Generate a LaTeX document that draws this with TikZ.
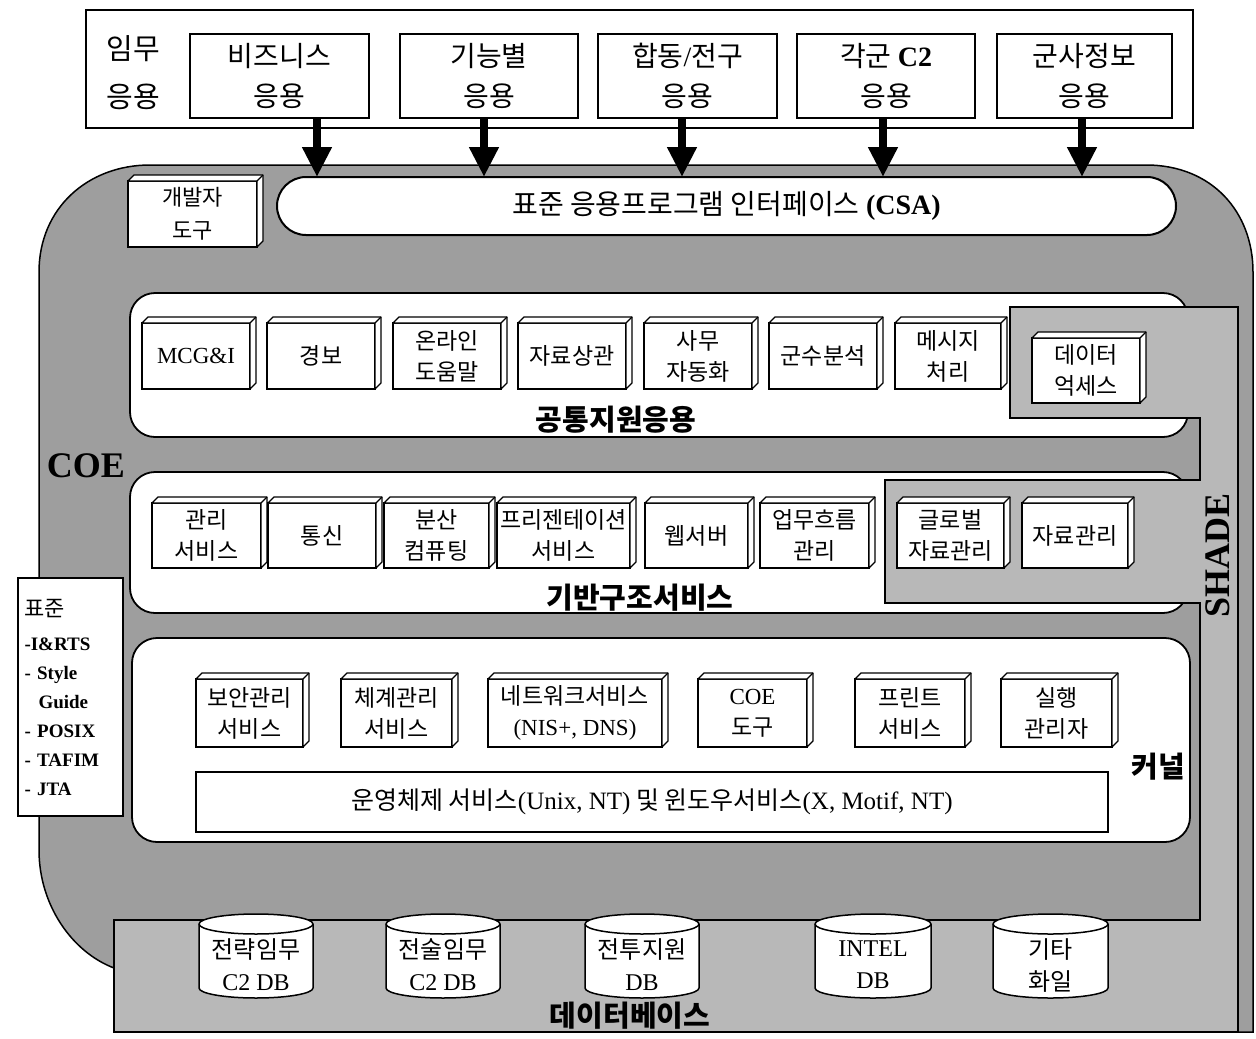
\documentclass[tikz,border=0pt]{standalone}
\usepackage{fontspec}
\setmainfont{Liberation Serif}
\newfontfamily\kr{Noto Sans CJK KR}
\usetikzlibrary{arrows.meta}
\definecolor{coegray}{gray}{0.62}
\definecolor{shadegray}{gray}{0.72}
\newcommand\lat[1]{{\rmfamily #1}}
% 3D box: [extra style], name, x1, y1, x2, y2 (front face), text
\newcommand\cubenode[7][]{%
  \node[cubefront, #1, minimum width={((#5)-(#3))*1pt}, minimum height={((#6)-(#4))*1pt}] (#2) at ({((#3)+(#5))/2},{((#4)+(#6))/2}) {#7};
  \filldraw[cubeside] (#2.north west) -- ++(6,-6) -- ([shift={(6,-6)}]#2.north east) -- ([shift={(6,-6)}]#2.south east) -- (#2.south east) -- (#2.north east) -- cycle;
  \draw[cubeside] (#2.north east) -- ++(6,-6);
}
% database cylinder: name, x1, x2, text
\newcommand\dbcyl[4]{%
  \filldraw[cyl] (#2,924) -- (#2,988) arc[start angle=180,end angle=360,x radius={((#3)-(#2))/2*1pt},y radius=10pt] -- (#3,924) arc[start angle=0,end angle=180,x radius={((#3)-(#2))/2*1pt},y radius=10pt] -- cycle;
  \draw[cyl] (#2,924) arc[start angle=180,end angle=360,x radius={((#3)-(#2))/2*1pt},y radius=10pt];
  \node[cyltext] (#1) at ({((#2)+(#3))/2},965) {#4};
}
\begin{document}
\begin{tikzpicture}[x=1pt,y=-1pt,
  outerbox/.style={draw, line width=1.5pt, fill=white, inner sep=0pt, outer sep=0pt},
  topbox/.style={draw, line width=2.2pt, fill=white, align=center, inner sep=0pt, outer sep=0pt, minimum height=84pt, font=\kr\fontsize{28}{40}\selectfont},
  toplabel/.style={align=center, inner sep=0pt, font=\kr\fontsize{29}{48}\selectfont},
  pill/.style={draw, line width=2pt, fill=white, rounded corners=29pt, inner sep=0pt, outer sep=0pt, minimum height=58pt, font=\kr\fontsize{28}{32}\selectfont},
  panel/.style={draw, line width=1.8pt, fill=white, rounded corners=25pt, inner sep=0pt, outer sep=0pt},
  cubefront/.style={draw, line width=1.5pt, fill=white, align=center, inner sep=0pt, outer sep=0pt, font=\kr\fontsize{23}{31}\selectfont},
  cubeside/.style={draw, line width=1.3pt, fill=white, line join=round},
  panellabel/.style={inner sep=0pt, font=\kr\bfseries\fontsize{29}{32}\selectfont},
  osbox/.style={draw, line width=1.5pt, fill=white, inner sep=0pt, outer sep=0pt, minimum width=912pt, minimum height=60pt, font=\kr\fontsize{25}{28}\selectfont},
  stdbox/.style={draw, line width=1.3pt, fill=white, align=left, inner sep=0pt, outer sep=0pt, text width=92pt, minimum width=105pt, minimum height=238pt, font=\bfseries\fontsize{19}{29}\selectfont},
  cyl/.style={draw, line width=1.5pt, fill=white},
  cyltext/.style={align=center, inner sep=0pt, font=\kr\fontsize{24}{32}\selectfont},
  bigarrow/.style={line width=8pt, -{Triangle[width=28pt,length=30pt]}},
  biglabel/.style={inner sep=0pt, font=\bfseries\fontsize{36}{40}\selectfont}
]
\useasboundingbox (0,0) rectangle (1256,1039);
\fill[white] (0,0) rectangle (1256,1039);

% ---------- mission applications ----------
\node[outerbox, minimum width=1107pt, minimum height=118pt] (mission) at (639.5,69) {};
\node[toplabel] (missionlbl) at (133,73) {임무\\응용};
\node[topbox, minimum width=179pt] (biz) at (279.5,76) {비즈니스\\응용};
\node[topbox, minimum width=178pt] (func) at (489,76) {기능별\\응용};
\node[topbox, minimum width=179pt] (joint) at (687.5,76) {합동\lat{/}전구\\응용};
\node[topbox, minimum width=178pt] (svc) at (886,76) {각군 \lat{\bfseries C2}\\응용};
\node[topbox, minimum width=175pt] (intel) at (1084.5,76) {군사정보\\응용};

% ---------- COE region ----------
\filldraw[fill=coegray, draw=black, line width=1.5pt]
  (150,165) -- (1146,165) .. controls (1212,165) and (1253,212) .. (1253,272)
  -- (1253,1032) -- (114,1032) -- (114,968)
  .. controls (72,952) and (39,905) .. (39,850)
  -- (39,272) .. controls (39,208) and (88,165) .. (150,165) -- cycle;

% white panels
\node[panel, minimum width=1058pt, minimum height=144pt] (p1) at (659,365) {};
\node[panel, minimum width=1058pt, minimum height=141pt] (p2) at (659,542.5) {};
\node[panel, minimum width=1058pt, minimum height=204pt] (p3) at (661,740) {};

% SHADE region
\filldraw[fill=shadegray, draw=black, line width=2pt, line join=miter]
  (1010,307) -- (1238,307) -- (1238,1032) -- (114,1032) -- (114,920) -- (1200,920)
  -- (1200,603) -- (885,603) -- (885,480) -- (1200,480) -- (1200,418) -- (1010,418) -- cycle;

% CSA interface
\node[pill, minimum width=899pt] (csa) at (726.5,206) {표준 응용프로그램 인터페이스 \lat{\bfseries (CSA)}};
\cubenode[font=\kr\fontsize{22}{33}\selectfont]{dev}{128}{181}{257}{247}{개발자\\도구}

% common support applications
\cubenode{mcg}{142}{323}{250}{389}{\lat{MCG\&I}}
\cubenode{alarm}{267}{323}{375}{389}{경보}
\cubenode{help}{393}{323}{501}{389}{온라인\\도움말}
\cubenode{corr}{518}{323}{626}{389}{자료상관}
\cubenode{office}{644}{323}{752}{389}{사무\\자동화}
\cubenode{logi}{769}{323}{877}{389}{군수분석}
\cubenode{msg}{895}{323}{1001}{389}{메시지\\처리}
\cubenode{access}{1032}{338}{1140}{403}{데이터\\억세스}
\node[panellabel] (p1lbl) at (616,420) {공통지원응용};

% infrastructure services
\cubenode{mgmt}{152}{503}{261}{568}{관리\\서비스}
\cubenode{comm}{268}{503}{376}{568}{통신}
\cubenode{dist}{384}{503}{489}{568}{분산\\컴퓨팅}
\cubenode{pres}{497}{503}{630}{568}{프리젠테이션\\서비스}
\cubenode{web}{645}{503}{748}{568}{웹서버}
\cubenode{flow}{760}{503}{869}{568}{업무흐름\\관리}
\cubenode{gdata}{897}{503}{1004}{568}{글로벌\\자료관리}
\cubenode{data}{1022}{503}{1128}{568}{자료관리}
\node[panellabel] (p2lbl) at (640,598) {기반구조서비스};

% kernel
\cubenode{sec}{196}{679}{303}{747}{보안관리\\서비스}
\cubenode{sys}{341}{679}{452}{747}{체계관리\\서비스}
\cubenode{net}{488}{679}{662}{747}{네트워크서비스\\\lat{(NIS+, DNS)}}
\cubenode{tools}{698}{679}{807}{747}{\lat{COE}\\도구}
\cubenode{print}{855}{679}{965}{747}{프린트\\서비스}
\cubenode{exec}{1001}{679}{1112}{747}{실행\\관리자}
\node[osbox] (os) at (652,802) {운영체제 서비스\lat{(Unix, NT)} 및 윈도우서비스\lat{(X, Motif, NT)}};
\node[panellabel] (p3lbl) at (1158,767) {커널};

% standards
\node[stdbox] (std) at (70.5,697) {{\kr\mdseries\fontsize{22}{29}\selectfont 표준}\\[5pt]-I\&RTS\\- Style\\\hspace*{14pt}Guide\\- POSIX\\- TAFIM\\- JTA};

% region labels
\node[biglabel] (coelbl) at (86,466) {COE};
\node[biglabel, rotate=90] (shadelbl) at (1218,555) {SHADE};

% databases
\dbcyl{db1}{199}{313}{전략임무\\\lat{C2 DB}}
\dbcyl{db2}{386}{500}{전술임무\\\lat{C2 DB}}
\dbcyl{db3}{585}{699}{전투지원\\\lat{DB}}
\dbcyl{db4}{815}{931}{\lat{INTEL}\\\lat{DB}}
\dbcyl{db5}{993}{1108}{기타\\화일}
\node[inner sep=0pt, font=\kr\bfseries\fontsize{29}{32}\selectfont] (dblbl) at (630,1016) {데이터베이스};

% arrows into the CSA
\foreach \n/\dx in {biz/37.5, func/-5, joint/-5.5, svc/-3, intel/-2.5} {
  \coordinate (s\n) at ([xshift=\dx pt]\n.south);
  \draw[bigarrow] (s\n) -- (s\n |- csa.north);
}
\end{tikzpicture}
\end{document}
